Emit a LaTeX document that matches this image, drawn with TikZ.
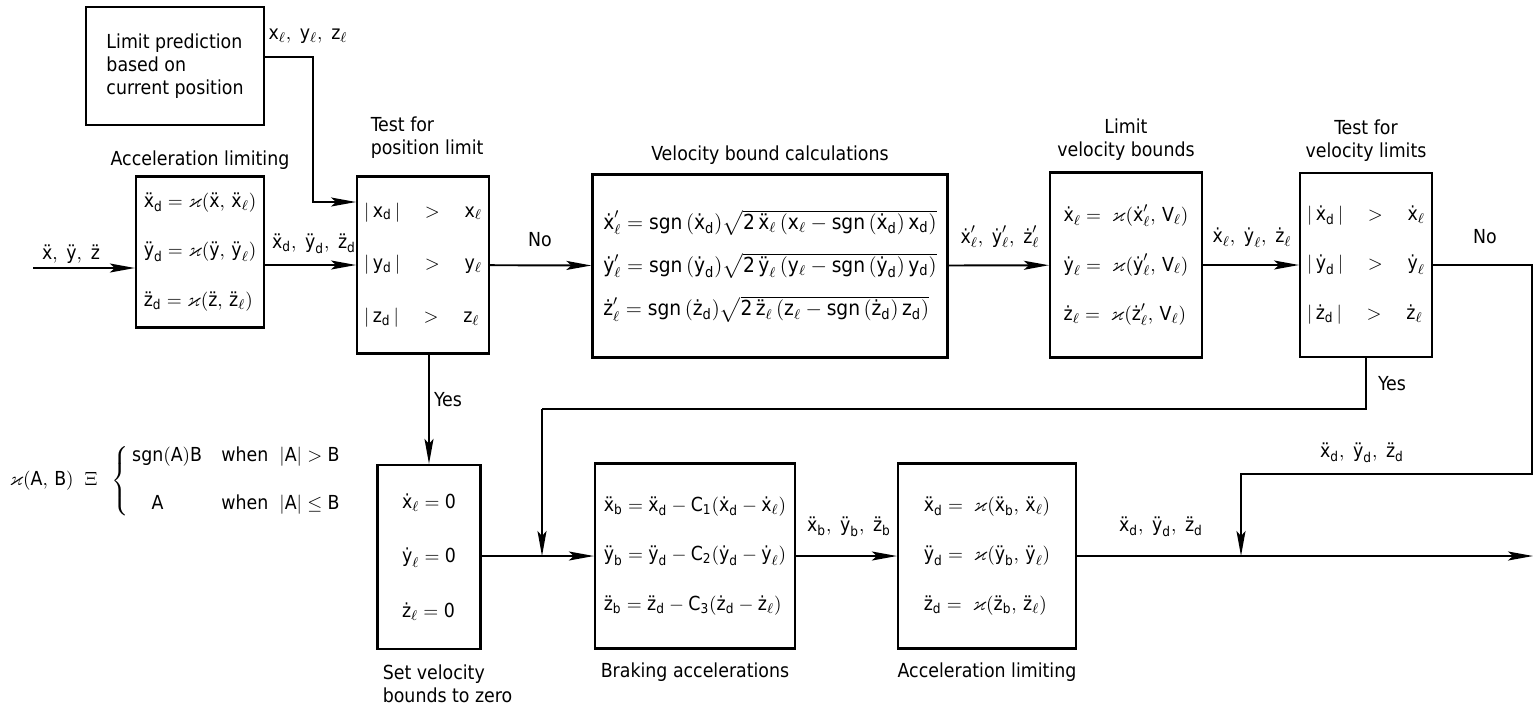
\documentclass[tikz,border=0pt]{standalone}
\usepackage{amsmath,amssymb}
\usepackage{fontspec}
\setmainfont{DejaVu Sans Condensed}
\setsansfont{DejaVu Sans Condensed}
\usetikzlibrary{arrows.meta}
\newcommand{\acl}[1]{\text{#1\char"0308}}
\newcommand{\vel}[1]{\text{#1\char"0307}}
\newcommand{\sd}{\mathsf{d}}
\newcommand{\sgnf}{\mathrm{sgn}\,}
\newcommand{\lmt}{\varkappa}

\begin{document}
\begin{tikzpicture}[x=0.02cm, y=-0.02cm, line width=1.1pt,
                >={Stealth[length=5mm, width=1.8mm, inset=1mm]},
                font=\fontsize{11}{13}\selectfont,
                blockbox/.style={draw, line width=1.3pt, align=left, inner sep=4pt},
                lbl/.style={font=\fontsize{11}{13}\selectfont, align=center}
            ]
            \useasboundingbox (0,0) rectangle (1537,711);

            % Limit prediction
            \node[blockbox, minimum width=3.56cm, minimum height=2.36cm] (pred) at (175,66)
                {Limit prediction\\ based on\\ current position};

            % Acceleration limiting (input)
            \node[blockbox, minimum width=2.56cm, minimum height=3.02cm] (acc1) at (200,252)
                {$\acl{x}_{\sd} = \lmt(\acl{x},\, \acl{x}_\ell)$\\[15pt]
                 $\acl{y}_{\sd} = \lmt(\acl{y},\, \acl{y}_\ell)$\\[15pt]
                 $\acl{z}_{\sd} = \lmt(\acl{z},\, \acl{z}_\ell)$};
            \node[lbl] at (200,160) {Acceleration limiting};

            % Test for position limit
            \node[blockbox, minimum width=2.42cm, minimum height=3.54cm] (tpos) at (423,265)
                {$\lvert\,\mathsf{x}_{\sd}\,\rvert\quad>\quad\mathsf{x}_\ell$\\[17pt]
                 $\lvert\,\mathsf{y}_{\sd}\,\rvert\quad>\quad\mathsf{y}_\ell$\\[17pt]
                 $\lvert\,\mathsf{z}_{\sd}\,\rvert\quad>\quad\mathsf{z}_\ell$};
            \node[lbl, align=left, anchor=west] at (364,138) {Test for\\position limit};

            % Velocity bound calculations
            \node[blockbox, minimum width=7.1cm, minimum height=3.66cm,
                  font=\fontsize{11.8}{14}\selectfont] (vbc) at (770,266)
                {$\vel{x}'_\ell = \sgnf(\vel{x}_{\sd})\sqrt{\mathsf{2}\,\acl{x}_\ell\,(\mathsf{x}_\ell - \sgnf(\vel{x}_{\sd})\,\mathsf{x}_{\sd})}$\\[9pt]
                 $\vel{y}'_\ell = \sgnf(\vel{y}_{\sd})\sqrt{\mathsf{2}\,\acl{y}_\ell\,(\mathsf{y}_\ell - \sgnf(\vel{y}_{\sd})\,\mathsf{y}_{\sd})}$\\[9pt]
                 $\vel{z}'_\ell = \sgnf(\vel{z}_{\sd})\sqrt{\mathsf{2}\,\acl{z}_\ell\,(\mathsf{z}_\ell - \sgnf(\vel{z}_{\sd})\,\mathsf{z}_{\sd})}$};
            \node[lbl] at (770,155) {Velocity bound calculations};

            % Limit velocity bounds
            \node[blockbox, minimum width=3.04cm, minimum height=3.7cm] (lvb) at (1126,265)
                {$\vel{x}_\ell = \;\lmt(\vel{x}'_\ell,\, \mathsf{V}_\ell)$\\[15pt]
                 $\vel{y}_\ell = \;\lmt(\vel{y}'_\ell,\, \mathsf{V}_\ell)$\\[15pt]
                 $\vel{z}_\ell = \;\lmt(\vel{z}'_\ell,\, \mathsf{V}_\ell)$};
            \node[lbl] at (1126,140) {Limit\\velocity bounds};

            % Test for velocity limits
            \node[blockbox, minimum width=2.52cm, minimum height=3.68cm] (tvel) at (1366,265)
                {$\lvert\,\vel{x}_{\sd}\,\rvert\quad>\quad\vel{x}_\ell$\\[15pt]
                 $\lvert\,\vel{y}_{\sd}\,\rvert\quad>\quad\vel{y}_\ell$\\[15pt]
                 $\lvert\,\vel{z}_{\sd}\,\rvert\quad>\quad\vel{z}_\ell$};
            \node[lbl] at (1366,141) {Test for\\velocity limits};

            % Set velocity bounds to zero
            \node[blockbox, minimum width=2.06cm, minimum height=3.68cm] (svz) at (429,557)
                {$\vel{x}_\ell = \mathsf{0}$\\[18pt]
                 $\vel{y}_\ell = \mathsf{0}$\\[18pt]
                 $\vel{z}_\ell = \mathsf{0}$};
            \node[lbl, align=left, anchor=north west] at (376,658) {Set velocity\\bounds to zero};

            % Braking accelerations
            \node[blockbox, minimum width=4.0cm, minimum height=3.7cm] (brk) at (695,556)
                {$\acl{x}_{\mathsf{b}} = \acl{x}_{\sd} - \mathsf{C}_{\mathsf{1}}(\vel{x}_{\sd} - \vel{x}_\ell)$\\[15pt]
                 $\acl{y}_{\mathsf{b}} = \acl{y}_{\sd} - \mathsf{C}_{\mathsf{2}}(\vel{y}_{\sd} - \vel{y}_\ell)$\\[15pt]
                 $\acl{z}_{\mathsf{b}} = \acl{z}_{\sd} - \mathsf{C}_{\mathsf{3}}(\vel{z}_{\sd} - \vel{z}_\ell)$};
            \node[lbl] at (695,672) {Braking accelerations};

            % Acceleration limiting (output)
            \node[blockbox, minimum width=3.56cm, minimum height=3.7cm] (acc2) at (987,556)
                {$\acl{x}_{\sd} = \;\lmt(\acl{x}_{\mathsf{b}},\, \acl{x}_\ell)$\\[15pt]
                 $\acl{y}_{\sd} = \;\lmt(\acl{y}_{\mathsf{b}},\, \acl{y}_\ell)$\\[15pt]
                 $\acl{z}_{\sd} = \;\lmt(\acl{z}_{\mathsf{b}},\, \acl{z}_\ell)$};
            \node[lbl] at (987,672) {Acceleration limiting};

            % Limiting function
            \node[lbl] (limdef) at (180,481)
                {$\lmt(\mathsf{A},\,\mathsf{B})\ \ \Xi\ \ \left\{\begin{array}{@{\,}l@{\quad}l@{\ \ }l}
                   \mathrm{sgn}(\mathsf{A})\mathsf{B} & \mathsf{when} & \lvert\mathsf{A}\rvert > \mathsf{B}\\[14pt]
                   \quad\mathsf{A} & \mathsf{when} & \lvert\mathsf{A}\rvert \leq \mathsf{B}
                 \end{array}\right.$};

            % Connectors
            \coordinate (in) at (33,268);
            \coordinate (jp) at (313,202);
            \coordinate (jy) at (542,409);
            \coordinate (jn) at (1532,474);
            \coordinate (jd) at (1241,474);
            \coordinate (out) at (1533,556);

            \draw[->] (in) -- (in -| acc1.west);
            \draw[->] ([yshift=5pt]pred.east) -| (jp) -- (jp -| tpos.west);
            \draw[->] (acc1.east |- tpos.west) -- (tpos.west);
            \draw[->] (tpos) -- (vbc);
            \draw[->] (vbc) -- (lvb);
            \draw[->] (lvb) -- (tvel);
            \draw[->] (tvel.east) -| (jn) -- (jd) -- (jd |- out);
            \draw[->] (tpos.south -| svz.north) -- (svz.north);
            \draw (tvel.south) |- (jy);
            \draw[->] (jy) -- (jy |- brk.west);
            \draw[->] (svz.east |- brk.west) -- (brk.west);
            \draw[->] (brk) -- (acc2);
            \draw[->] (acc2.east) -- (out);

            % Signal labels
            \node[lbl] at (71,254) {$\acl{x},\ \acl{y},\ \acl{z}$};
            \node[lbl] at (308,36) {$\mathsf{x}_\ell,\ \mathsf{y}_\ell,\ \mathsf{z}_\ell$};
            \node[lbl] at (314,244) {$\acl{x}_{\sd},\ \acl{y}_{\sd},\ \acl{z}_{\sd}$};
            \node[lbl] at (540,240) {No};
            \node[lbl] at (1000,237) {$\vel{x}'_\ell,\ \vel{y}'_\ell,\ \vel{z}'_\ell$};
            \node[lbl] at (1252,238) {$\vel{x}_\ell,\ \vel{y}_\ell,\ \vel{z}_\ell$};
            \node[lbl] at (1485,237) {No};
            \node[lbl] at (448,400) {Yes};
            \node[lbl] at (1392,384) {Yes};
            \node[lbl] at (1362,453) {$\acl{x}_{\sd},\ \acl{y}_{\sd},\ \acl{z}_{\sd}$};
            \node[lbl] at (849,527) {$\acl{x}_{\mathsf{b}},\ \acl{y}_{\mathsf{b}},\ \acl{z}_{\mathsf{b}}$};
            \node[lbl] at (1161,527) {$\acl{x}_{\sd},\ \acl{y}_{\sd},\ \acl{z}_{\sd}$};

            \end{tikzpicture}
\end{document}
